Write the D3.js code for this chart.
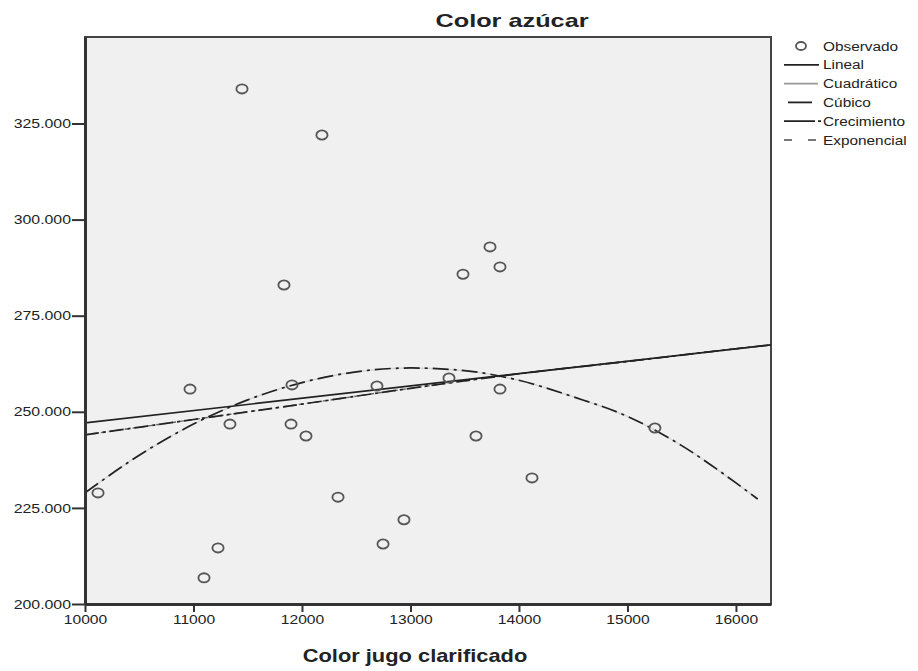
<!DOCTYPE html>
<html>
<head>
<meta charset="utf-8">
<script src="https://cdn.jsdelivr.net/npm/d3@7"></script>
<style>
   body { margin: 0; background: #fff; }
   text { font-family: "Liberation Sans", Arial, sans-serif; }
</style>
</head>
<body>
<svg width="918" height="671"></svg>
<script>
// observed points (Color jugo clarificado, Color azúcar)
var obsX = [10120, 11447, 12184, 11834, 13733, 13484, 13825, 10968, 11908, 12691, 13355, 13825,
            11336, 11899, 12037, 13604, 15253, 14120, 12332, 12940, 12747, 11226, 11097];
var obsY = [228.9, 334.0, 322.0, 283.0, 292.9, 285.8, 287.7, 255.9, 257.0, 256.7, 258.8, 255.9,
            246.8, 246.8, 243.7, 243.7, 245.8, 232.8, 227.8, 221.9, 215.6, 214.6, 206.8];

// fitted curves
var linealX = [10000, 16323];
var linealY = [247.1, 267.4];

var expX = [10000, 11000, 12000, 13000, 14000, 15000, 16000, 16323];
var expY = [244.0, 248.0, 252.0, 256.1, 259.9, 263.1, 266.4, 267.4];

var cubX = [10000, 10500, 11000, 11500, 12000, 12500, 13000, 13500, 14000, 14500, 15000, 15500, 16000, 16200];
var cubY = [228.9, 238.7, 246.8, 253.1, 257.6, 260.4, 261.4, 260.7, 258.2, 253.9, 248.8, 241.2, 231.5, 227.3];

var xTicks = [10000, 11000, 12000, 13000, 14000, 15000, 16000];
var yTicks = [200, 225, 250, 275, 300, 325];

var legendNames = ['Observado', 'Lineal', 'Cuadrático', 'Cúbico', 'Crecimiento', 'Exponencial'];

var svg = d3.select('svg');
var margin = {top: 37, left: 85, right: 771, bottom: 604};

var x = d3.scaleLinear().domain([10000, 16323]).range([margin.left, margin.right]);
var y = d3.scaleLinear().domain([200, 347.5]).range([margin.bottom, margin.top]);

// the picture is stretched sideways, so text is widened to match
var widen = function (sel, k) {
   sel.each(function () {
      var w = this.getComputedTextLength();
      d3.select(this).attr('textLength', w * k).attr('lengthAdjust', 'spacingAndGlyphs');
   });
};

// plot background
svg.append('rect')
   .attr('x', margin.left).attr('y', margin.top)
   .attr('width', margin.right - margin.left).attr('height', margin.bottom - margin.top)
   .attr('fill', '#f0f0f0')
   .attr('stroke', '#444').attr('stroke-width', 2);

svg.append('clipPath').attr('id', 'plotclip')
   .append('rect')
   .attr('x', margin.left).attr('y', margin.top)
   .attr('width', margin.right - margin.left).attr('height', margin.bottom - margin.top);

var toPts = function (xs, ys) {
   return xs.map(function (d, i) { return [d, ys[i]]; });
};

var line = d3.line()
   .x(function (d) { return x(d[0]); })
   .y(function (d) { return y(d[1]); })
   .curve(d3.curveMonotoneX);

var plot = svg.append('g').attr('clip-path', 'url(#plotclip)');

// cuadratico (light solid) under the cubic
plot.append('path').attr('d', line(toPts(cubX, cubY)))
   .attr('fill', 'none').attr('stroke', '#d8d8d8').attr('stroke-width', 1.5);
plot.append('path').attr('d', line(toPts(cubX, cubY)))
   .attr('fill', 'none').attr('stroke', '#222').attr('stroke-width', 1.7)
   .attr('stroke-dasharray', '16,5,3,5');

// exponencial + crecimiento (same curve)
plot.append('path').attr('d', line(toPts(expX, expY)))
   .attr('fill', 'none').attr('stroke', '#666').attr('stroke-width', 1.4)
   .attr('stroke-dasharray', '4,4');
plot.append('path').attr('d', line(toPts(expX, expY)))
   .attr('fill', 'none').attr('stroke', '#222').attr('stroke-width', 1.7)
   .attr('stroke-dasharray', '14,4,3,4');

// lineal
plot.append('path').attr('d', line(toPts(linealX, linealY)))
   .attr('fill', 'none').attr('stroke', '#222').attr('stroke-width', 1.7);

// observed
plot.selectAll('ellipse.obs').data(toPts(obsX, obsY)).enter().append('ellipse')
   .attr('class', 'obs')
   .attr('cx', function (d) { return x(d[0]); })
   .attr('cy', function (d) { return y(d[1]); })
   .attr('rx', 5.6).attr('ry', 4.6)
   .attr('fill', 'none').attr('stroke', '#555').attr('stroke-width', 1.8);

// axes
var xAxis = svg.append('g')
   .attr('transform', 'translate(0,' + margin.bottom + ')')
   .call(d3.axisBottom(x).tickValues(xTicks).tickSize(8).tickSizeOuter(0).tickPadding(3).tickFormat(d3.format('d')));
var yAxis = svg.append('g')
   .attr('transform', 'translate(' + margin.left + ',0)')
   .call(d3.axisLeft(y).tickValues(yTicks).tickSize(13).tickSizeOuter(0).tickPadding(1).tickFormat(function (d) { return d + '.000'; }));

[xAxis, yAxis].forEach(function (ax) {
   ax.select('.domain').attr('stroke', '#333').attr('stroke-width', 3);
   ax.selectAll('.tick line').attr('stroke', '#333').attr('stroke-width', 2);
   ax.selectAll('.tick text').attr('fill', '#222').style('font-size', '13px')
      .style('font-family', '"Liberation Sans", Arial, sans-serif');
});
widen(xAxis.selectAll('.tick text'), 1.2);
widen(yAxis.selectAll('.tick text'), 1.22);

// title and axis label
svg.append('text').attr('x', 512).attr('y', 27).attr('text-anchor', 'middle')
   .style('font-size', '19px').style('font-weight', 'bold').attr('fill', '#222')
   .text('Color azúcar')
   .call(widen, 1.33);
svg.append('text').attr('x', 415).attr('y', 662).attr('text-anchor', 'middle')
   .style('font-size', '19px').style('font-weight', 'bold').attr('fill', '#222')
   .text('Color jugo clarificado')
   .call(widen, 1.15);

// legend
var legend = svg.selectAll('.legend').data(legendNames).enter().append('g')
   .attr('class', 'legend')
   .attr('transform', function (d, i) { return 'translate(784,' + (46 + i * 18.8) + ')'; });

legend.append('text').attr('x', 39).attr('y', 4.5)
   .style('font-size', '12px').attr('fill', '#222')
   .text(function (d) { return d; })
   .call(widen, 1.28);

var legendStyle = [
   null,
   {x1: 0, x2: 35, stroke: '#222', dash: null},
   {x1: 0, x2: 34, stroke: '#999', dash: null},
   {x1: 4, x2: 28, stroke: '#222', dash: null},
   {x1: 0, x2: 37, stroke: '#222', dash: '31,3,3,10'},
   {x1: 0, x2: 32, stroke: '#777', dash: '8,16'}
];
legend.each(function (d, i) {
   var g = d3.select(this);
   if (i === 0) {
      g.append('ellipse').attr('cx', 17).attr('cy', 0).attr('rx', 5).attr('ry', 4)
         .attr('fill', 'none').attr('stroke', '#555').attr('stroke-width', 1.8);
   } else {
      g.append('line').attr('x1', legendStyle[i].x1).attr('x2', legendStyle[i].x2).attr('y1', 0).attr('y2', 0)
         .attr('stroke', legendStyle[i].stroke).attr('stroke-width', 1.8)
         .attr('stroke-dasharray', legendStyle[i].dash);
   }
});
</script>
</body>
</html>
